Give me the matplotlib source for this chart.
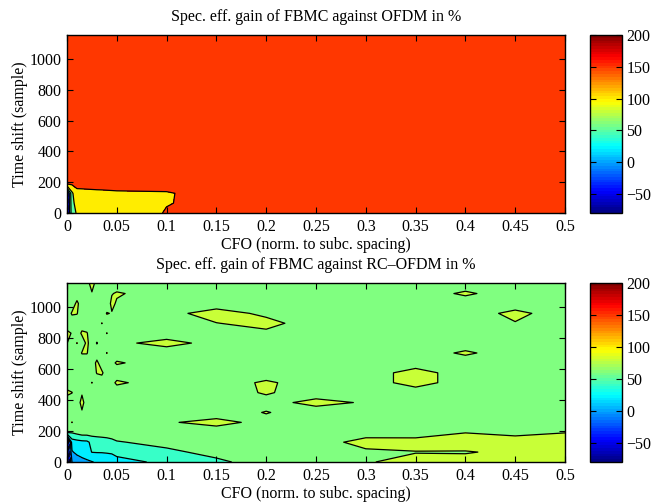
import numpy as np
import matplotlib
matplotlib.use("Agg")
import matplotlib.pyplot as plt
from matplotlib.colors import ListedColormap, Normalize
from matplotlib.cm import ScalarMappable

# grid: CFO (norm. to subc. spacing) and time shift (samples)
cfo = [0, 0.005, 0.01, 0.015, 0.02, 0.025, 0.03, 0.035, 0.04, 0.045, 0.05,
       0.1, 0.15, 0.2, 0.25, 0.3, 0.35, 0.4, 0.45, 0.5]
tshift = [0, 64, 128, 192, 256, 320, 384, 448, 512, 576, 640, 704, 768,
          832, 896, 960, 1024, 1088, 1152]

# gain against OFDM (%) -- rows follow tshift, columns follow cfo
gain_ofdm = [
    [-75, 80, 105, 120, 120, 120, 120, 120, 120, 120, 120, 152.7, 160, 160, 160, 160, 160, 160, 160, 160],
    [-75, 85, 120, 125, 125, 125, 125, 125, 125, 125, 125, 148.4, 160, 160, 160, 160, 160, 160, 160, 160],
    [-75, 90, 141, 141.8, 142.8, 143.6, 144.4, 144.8, 145.5, 146.1, 146.7, 148, 160, 160, 160, 160, 160, 160, 160, 160],
] + [[160] * 20 for _ in range(16)]

# gain against RC-OFDM (%)
gain_rcofdm = [
    [-75, 0, 8, 12, 16, 19, 22, 25, 28, 31, 34, 44, 56, 69, 70, 78, 88, 90, 90, 92],
    [-75, 18, 25, 30, 33, 40.5, 41, 41, 41.5, 42, 45, 55.7, 66, 70, 70, 76, 79, 78, 86, 88],
    [-75, 30, 33, 35, 36, 45, 48, 50, 52, 55, 58.6, 66, 70, 70, 70, 88, 90, 95, 92, 95],
    [64, 62, 66, 70, 70, 70, 70, 70, 70, 70, 70, 70, 70, 70, 70, 70, 67, 79, 73, 79],
    [70, 80.5, 70, 70, 70, 70, 70, 70, 70, 70, 70, 78, 86, 74, 70, 70, 70, 70, 70, 70],
    [70, 70, 70, 78, 70, 70, 70, 70, 70, 70, 70, 70, 70, 81, 70, 70, 70, 70, 70, 70],
    [70, 70, 70, 86, 70, 70, 70, 70, 70, 70, 70, 70, 70, 73, 86, 78, 70, 70, 70, 70],
    [84, 80.5, 70, 78, 70, 70, 70, 70, 70, 70, 70, 70, 70, 82, 70, 70, 70, 70, 70, 70],
    [70, 70, 70, 70, 70, 80.5, 70, 70, 70, 75, 83, 70, 70, 83, 70, 70, 88, 70, 70, 70],
    [70, 70, 70, 70, 70, 70, 81, 83, 70, 70, 70, 70, 70, 70, 70, 70, 88, 70, 70, 70],
    [70, 70, 70, 70, 70, 70, 84, 70, 70, 76, 82, 70, 70, 70, 70, 70, 70, 70, 70, 70],
    [70, 70, 70, 81, 81, 70, 70, 70, 80.5, 70, 70, 70, 70, 70, 70, 70, 70, 83, 70, 70],
    [80.5, 70, 80.5, 70, 84, 70, 81, 70, 70, 70, 76, 86, 74, 70, 70, 70, 70, 70, 70, 70],
    [84, 79, 70, 83, 81, 70, 70, 70, 80.5, 70, 70, 70, 70, 76, 70, 70, 70, 70, 70, 70],
    [70, 70, 70, 70, 70, 70, 70, 80.5, 70, 70, 70, 70, 79.5, 86, 70, 70, 70, 70, 79, 70],
    [70, 82, 81, 70, 70, 70, 70, 70, 81, 79, 70, 74, 88, 76, 70, 70, 70, 70, 85, 70],
    [70, 70, 84, 70, 70, 70, 70, 70, 70, 84, 78, 70, 70, 70, 70, 70, 70, 70, 70, 70],
    [70, 70, 70, 70, 70, 78, 70, 70, 70, 79, 82, 70, 70, 70, 70, 70, 70, 83, 70, 70],
    [70, 70, 70, 70, 70, 90, 70, 70, 70, 70, 70, 70, 70, 70, 70, 70, 70, 70, 70, 70],
]

levels_ofdm = [-80, -50, 0, 50, 100, 150, 200]
levels_rcofdm = [-80, -60, -40, -20, 0, 20, 40, 60, 80, 100]
cmin, cmax = -80, 200
cbar_ticks = [-50, 0, 50, 100, 150, 200]


def mjet(f):
    f = np.clip(f, 0, 1)
    r = np.clip(1.5 - abs(4 * f - 3), 0, 1)
    g = np.clip(1.5 - abs(4 * f - 2), 0, 1)
    b = np.clip(1.5 - abs(4 * f - 1), 0, 1)
    return (float(r), float(g), float(b))


jet64 = ListedColormap([mjet((i + 0.5) / 64) for i in range(64)])
norm = Normalize(cmin, cmax)

plt.rcParams["font.family"] = ["Liberation Serif", "DejaVu Serif"]
plt.rcParams["font.size"] = 11.5

fig = plt.figure(figsize=(6.52, 5.04), dpi=100)
W, H = 652, 504


def rect(l, t, r, b):
    return [l / W, 1 - b / H, (r - l) / W, (b - t) / H]


X, Y = np.meshgrid(cfo, tshift)
panels = [
    (gain_ofdm, levels_ofdm, "Spec. eff. gain of FBMC against OFDM in %", (35, 213)),
    (gain_rcofdm, levels_rcofdm, "Spec. eff. gain of FBMC against RC\u2013OFDM in %", (283, 462)),
]

for Z, lev, title, (top, bot) in panels:
    Z = np.array(Z, dtype=float)
    ax = fig.add_axes(rect(67, top, 565, bot))
    fills = [mjet((l - cmin) / (cmax - cmin)) for l in lev[:-1]]
    ax.contourf(X, Y, Z, levels=lev, colors=fills)
    ax.contour(X, Y, Z, levels=lev[1:-1], colors="k", linewidths=0.9)
    ax.set_xlim(0, 0.5)
    ax.set_ylim(0, 1156)
    ax.set_xticks([0, 0.05, 0.1, 0.15, 0.2, 0.25, 0.3, 0.35, 0.4, 0.45, 0.5])
    ax.set_xticklabels(["0", "0.05", "0.1", "0.15", "0.2", "0.25", "0.3",
                        "0.35", "0.4", "0.45", "0.5"])
    ax.set_yticks([0, 200, 400, 600, 800, 1000])
    ax.tick_params(direction="in", top=True, right=True, length=4, pad=4)
    for s in ax.spines.values():
        s.set_linewidth(1.0)
    ax.set_title(title, fontsize=11.5, pad=10)
    ax.set_xlabel("CFO (norm. to subc. spacing)", labelpad=2)
    ax.set_ylabel("Time shift (sample)", labelpad=1)

    cax = fig.add_axes(rect(590, top, 622, bot))
    cb = fig.colorbar(ScalarMappable(norm=norm, cmap=jet64), cax=cax, ticks=cbar_ticks)
    cb.outline.set_linewidth(1.0)
    cax.tick_params(direction="in", left=True, right=True, length=4, pad=3)

fig.savefig("out.png", dpi=100)
